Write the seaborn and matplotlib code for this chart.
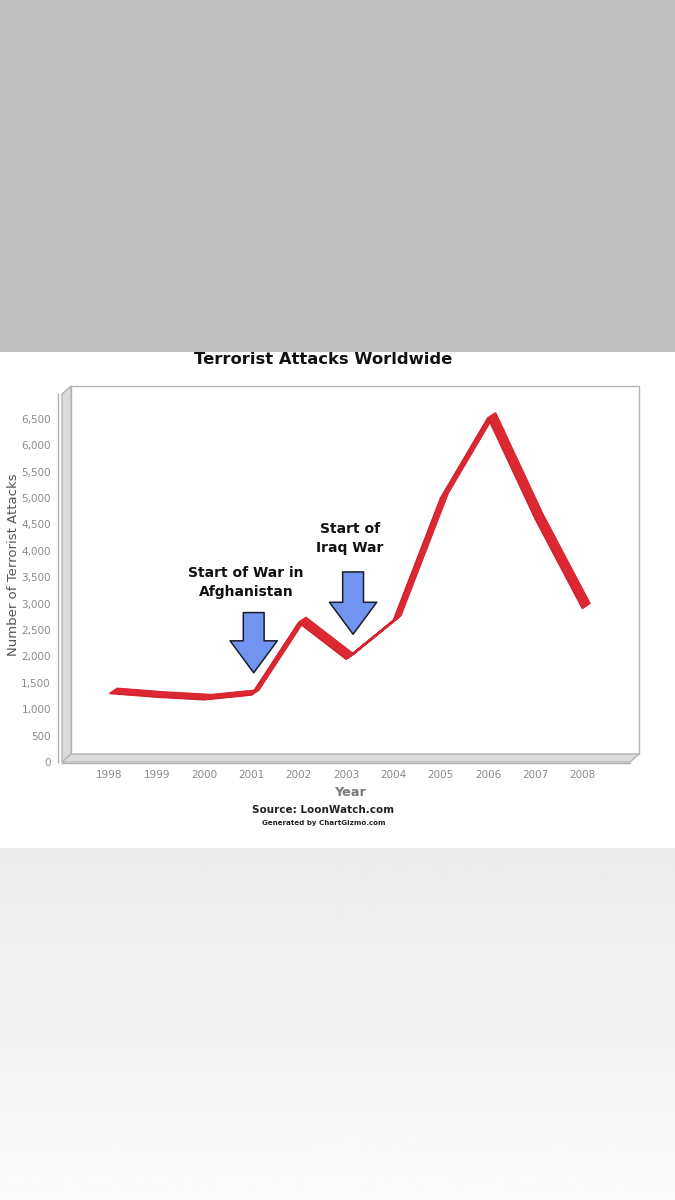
import numpy as np
import pandas as pd
import matplotlib
matplotlib.use("Agg")
import matplotlib.pyplot as plt
import seaborn as sns
from matplotlib.patches import Rectangle, Polygon
from matplotlib.transforms import ScaledTranslation
from matplotlib.ticker import StrMethodFormatter

# data
years = [1998, 1999, 2000, 2001, 2002, 2003, 2004, 2005, 2006, 2007, 2008]
attacks = [1300, 1230, 1180, 1270, 2640, 1950, 2680, 5000, 6520, 4600, 2900]
y_ticks = list(range(0, 7000, 500))

notes = ["Start of War in\nAfghanistan", "Start of\nIraq War"]
note_x = [2000.89, 2003.08]
note_y = [3400, 4235]
arrow_x = [2001.05, 2003.15]
arrow_top = [2830, 3600]
arrow_tip = [1690, 2420]

sns.set_style("white")
plt.rcParams["font.family"] = ["DejaVu Sans"]

W, H = 675, 1200
DPI = 100
fig = plt.figure(figsize=(W / DPI, H / DPI), dpi=DPI)
fig.patch.set_facecolor("white")


def fx(x):
    return x / W


def fy(y):
    return 1 - y / H


# page background: grey band on top, soft gradient at the bottom
fig.patches.append(Rectangle((0, fy(352)), 1, 352 / H, transform=fig.transFigure,
                             facecolor="#bfbfbf", edgecolor="none", zorder=-5))
gax = fig.add_axes([0, 0, 1, (H - 848) / H], zorder=-4)
grad = np.linspace(0.92, 0.985, 200).reshape(-1, 1)
gax.imshow(grad, aspect="auto", cmap="gray", vmin=0, vmax=1, extent=[0, 1, 0, 1])
gax.axis("off")

# 3d box of the plot
wall_kw = dict(transform=fig.transFigure, facecolor="#dcdcdc", edgecolor="#b5b5b5",
               linewidth=1, zorder=-3)
fig.patches.append(Rectangle((fx(71), fy(754)), fx(639) - fx(71), fy(386) - fy(754),
                             transform=fig.transFigure, facecolor="white",
                             edgecolor="#b5b5b5", linewidth=1, zorder=-3))
fig.patches.append(Polygon([(fx(62), fy(394)), (fx(71), fy(386)), (fx(71), fy(754)),
                            (fx(62), fy(762))], **wall_kw))
fig.patches.append(Polygon([(fx(62), fy(762)), (fx(71), fy(754)), (fx(639), fy(754)),
                            (fx(630), fy(762))], **wall_kw))

ax = fig.add_axes([fx(62), fy(762), fx(630) - fx(62), fy(394) - fy(762)])
ax.set_facecolor("none")

df = pd.DataFrame({"Year": years, "Attacks": attacks})

# ribbon: sweep the line towards the back wall
RED = "#dc2832"
DX, DY = 7.5, 5
for k in np.linspace(1, 0.08, 14):
    tr = ax.transData + ScaledTranslation(DX * k / DPI, DY * k / DPI, fig.dpi_scale_trans)
    ax.plot(years, attacks, color=RED, lw=1.2, transform=tr,
            solid_joinstyle="miter", solid_capstyle="butt", zorder=3)
sns.lineplot(data=df, x="Year", y="Attacks", ax=ax, color="#d2232d", lw=1.2,
             solid_joinstyle="miter", solid_capstyle="butt", zorder=4)

ax.set_xlim(1997, 2009)
ax.set_ylim(0, 6970)
ax.set_xticks(years)
ax.set_xticklabels([str(y) for y in years])
ax.set_yticks(y_ticks)
ax.yaxis.set_major_formatter(StrMethodFormatter("{x:,.0f}"))
ax.tick_params(axis="both", which="major", labelsize=7.5, labelcolor="#8a8a8a",
               color="#aaaaaa", length=3, width=0.8, direction="out", pad=2)
ax.tick_params(axis="x", pad=2)
for s in ["top", "right"]:
    ax.spines[s].set_visible(False)
for s in ["left", "bottom"]:
    ax.spines[s].set_color("#b0b0b0")
    ax.spines[s].set_linewidth(1)
ax.spines["left"].set_position(("outward", 3))
ax.spines["bottom"].set_position(("outward", 1))
ax.set_xlabel("")
ax.set_ylabel("")

# notes with block arrows
for txt, tx, ty, axx, at, ab in zip(notes, note_x, note_y, arrow_x, arrow_top, arrow_tip):
    ax.text(tx, ty, txt, ha="center", va="center", fontsize=10, fontweight="heavy",
            color="#111111", linespacing=1.5, zorder=6)
    ax.annotate("", xy=(axx, ab), xytext=(axx, at), zorder=6,
                arrowprops=dict(arrowstyle="simple,head_length=2.3,head_width=3.4,tail_width=1.5",
                                mutation_scale=10, facecolor="#7094f0", edgecolor="#1b1b2b",
                                linewidth=1.1, shrinkA=0, shrinkB=0))

fig.text(fx(323), fy(359), "Terrorist Attacks Worldwide", ha="center", va="center",
         fontsize=11.8, fontweight="bold", color="#111111")
fig.text(fx(14), fy(565), "Number of Terrorist Attacks", rotation=90, ha="center",
         va="center", fontsize=9.5, color="#555555")
fig.text(fx(350), fy(793), "Year", ha="center", va="center", fontsize=9.3,
         fontweight="bold", color="#7a7a7a")
fig.text(fx(323), fy(810), "Source: LoonWatch.com", ha="center", va="center",
         fontsize=7.5, fontweight="bold", color="#222222")
fig.text(fx(324), fy(823), "Generated by ChartGizmo.com", ha="center", va="center",
         fontsize=5.1, fontweight="heavy", color="#222222")

fig.savefig("out.png", dpi=DPI)
